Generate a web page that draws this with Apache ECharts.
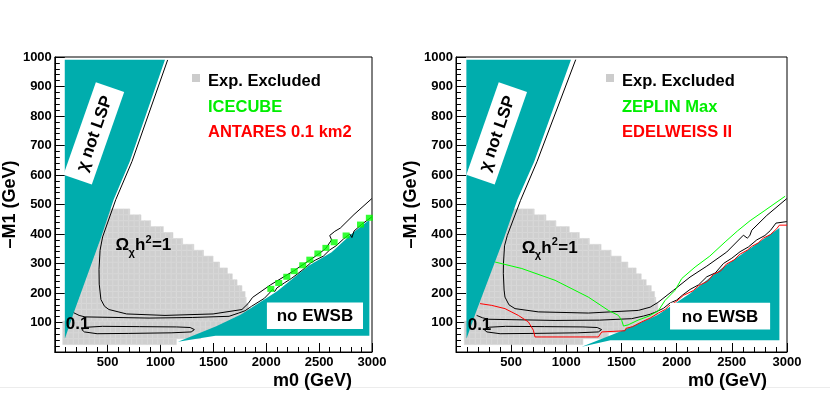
<!DOCTYPE html>
<html>
<head>
<meta charset="utf-8">
<script src="https://cdn.jsdelivr.net/npm/echarts@6/dist/echarts.min.js"></script>
<style>
  html, body { margin: 0; background: #fff; }
  #main { width: 830px; height: 393px; }
</style>
</head>
<body>
<div id="main"></div>
<script>
const FONT = '"Liberation Sans", Arial, Helvetica, sans-serif';

// axis ticks
const m0Ticks = [0, 500, 1000, 1500, 2000, 2500, 3000];
const m1Ticks = [0, 100, 200, 300, 400, 500, 600, 700, 800, 900, 1000];

// experimentally excluded area: rows 20 GeV tall, left / right edge in m0
const exclRowBottom = [25, 45, 65, 85, 105, 125, 145, 165, 185, 205, 225, 245, 265, 285, 305, 325, 345, 365, 385, 405, 425, 445, 465];
const exclRowLeft = [75, 75, 75, 75, 100, 100, 100, 100, 100, 100, 100, 100, 100, 100, 100, 100, 100, 100, 100, 100, 100, 100, 100];
const exclRowRight = [1150, 1380, 1800, 1800, 1820, 1830, 1830, 1810, 1800, 1770, 1724, 1679, 1633, 1558, 1497, 1406, 1315, 1209, 1118, 1027, 906, 815, 709];

// theoretically forbidden zones (m0, -M1)
const notLspZone = [[94, 991], [1042, 991], [709, 646], [557, 517], [436, 387], [179, 133], [95, 45]];
const noEwsbLeft = [[1165, 35], [1527, 87], [1760, 127], [2103, 206], [2400, 292], [2618, 338], [2800, 398], [2975, 448], [2975, 55], [1520, 55]];
const noEwsbRight = [[1140, 18], [1517, 74], [1819, 124], [1940, 153], [2121, 198], [2424, 288], [2726, 367], [2931, 420], [2931, 40], [1400, 40]];

// relic density contours
const omegaOneLeft = [[1067, 990], [730, 646], [577, 517], [452, 390], [428, 345], [418, 280], [420, 230], [436, 178], [470, 155], [512, 144], [679, 129], [1042, 124], [1497, 129], [1770, 144], [1830, 165], [1870, 185], [2042, 228], [2255, 274], [2467, 325], [2560, 350], [2618, 380], [2600, 395], [2648, 409], [2700, 420], [2830, 466], [2998, 520]];
const pointOneLeft = [[179, 133], [230, 124], [285, 119], [891, 115], [1300, 117], [1648, 121], [1739, 132], [1800, 140], [1861, 155], [1982, 182], [2030, 200], [2060, 212], [2080, 205], [2100, 217], [2170, 234], [2240, 250], [2300, 266], [2360, 283], [2420, 302], [2467, 312], [2540, 325], [2600, 346], [2660, 360], [2730, 383], [2790, 400], [2810, 388], [2830, 410], [2900, 432], [2998, 458]];
const omegaOneRight = [[1085, 991], [735, 646], [585, 514], [465, 395], [440, 360], [430, 300], [429, 266], [436, 210], [444, 186], [480, 160], [535, 147], [746, 136], [1200, 132], [1653, 141], [1760, 152], [1830, 168], [1970, 209], [2121, 254], [2273, 291], [2454, 339], [2605, 396], [2640, 386], [2662, 394], [2681, 413], [2817, 463], [2998, 520]];
const pointOneRight = [[187, 124], [240, 116], [293, 111], [898, 107], [1300, 108], [1592, 113], [1700, 122], [1760, 128], [1819, 137], [1880, 148], [1940, 166], [2000, 176], [2050, 192], [2121, 212], [2200, 228], [2273, 255], [2350, 268], [2424, 300], [2500, 318], [2575, 340], [2650, 356], [2726, 380], [2800, 395], [2850, 412], [2900, 437], [2998, 442]];
const pointOneLoop = [[255, 76], [300, 84], [450, 87], [800, 86], [1150, 85], [1280, 83], [1320, 76], [1290, 68], [1100, 65], [700, 63], [400, 62], [280, 68], [255, 76]];

// detection reach
const icecubeCells = [[2043, 214], [2118, 234], [2194, 255], [2264, 274], [2345, 294], [2412, 313], [2488, 334], [2564, 353], [2642, 372], [2755, 395], [2891, 432], [2975, 455]];
const zeplinMax = [[354, 305], [596, 283], [898, 243], [1200, 186], [1381, 141], [1472, 124], [1502, 107], [1518, 88], [1560, 92], [1650, 108], [1750, 122], [1834, 140], [1895, 175], [1985, 209], [2046, 249], [2167, 288], [2300, 325], [2439, 373], [2550, 410], [2665, 445], [2800, 480], [2983, 528]];
const edelweissII = [[218, 164], [324, 158], [444, 147], [565, 124], [656, 102], [701, 74], [716, 51], [1290, 51], [1321, 68], [1532, 72], [1540, 80], [1600, 86], [1683, 102], [1700, 108], [1760, 115], [1834, 132], [1900, 145], [1925, 155], [2000, 172], [2061, 192], [2150, 208], [2200, 225], [2280, 240], [2333, 263], [2400, 275], [2450, 298], [2520, 312], [2575, 332], [2640, 345], [2680, 358], [2740, 370], [2786, 386], [2850, 398], [2907, 418], [2931, 430], [3000, 430]];

// label anchors (m0, -M1)
const lspLabelAt = [369, 741];
const omegaLabelAt = [[573, 361], [596, 353]];
const pointOneLabelAt = [[103, 95], [106, 92]];
const ewsbBox = [[[2006, 78], [2915, 168]], [[1940, 76], [2847, 167]]];

const TEAL = '#00adad';
const GREY = '#cfcfcf';

const exclRows = exclRowBottom.map((b, i) => [exclRowLeft[i], b, exclRowRight[i], b + 20]);

function axisX(i) {
  return {
    gridIndex: i, type: 'value', min: 0, max: 3000, interval: 500,
    name: 'm0 (GeV)', nameLocation: 'end', nameGap: 0,
    nameTextStyle: { fontFamily: FONT, fontWeight: 'bold', fontSize: 18, color: '#000', align: 'right', verticalAlign: 'top', padding: [20, 20, 0, 0] },
    axisLine: { lineStyle: { color: '#000', width: 1 } },
    axisTick: { inside: true, length: 9, lineStyle: { color: '#000' } },
    minorTick: { show: true, splitNumber: 5, length: 5, lineStyle: { color: '#000' } },
    axisLabel: { margin: 4, fontFamily: FONT, fontWeight: 'bold', fontSize: 13, color: '#000', formatter: v => m0Ticks.indexOf(v) > 0 ? v : '' },
    splitLine: { show: false }
  };
}

function axisY(i) {
  return {
    gridIndex: i, type: 'value', min: 0, max: 1000, interval: 100,
    name: '–M1 (GeV)', nameLocation: 'middle', nameGap: 27, nameRotate: 90,
    nameTextStyle: { fontFamily: FONT, fontWeight: 'bold', fontSize: 18, color: '#000' },
    axisLine: { lineStyle: { color: '#000', width: 1 } },
    axisTick: { inside: true, length: 10, lineStyle: { color: '#000' } },
    minorTick: { show: true, splitNumber: 5, length: 5, lineStyle: { color: '#000' } },
    axisLabel: { margin: 3, fontFamily: FONT, fontWeight: 'bold', fontSize: 13, color: '#000', formatter: v => m1Ticks.indexOf(v) > 0 ? v : '' },
    splitLine: { show: false }
  };
}

function excludedSeries(i) {
  return {
    type: 'custom', xAxisIndex: i, yAxisIndex: i, z: 1, silent: true, clip: true,
    data: exclRows,
    renderItem: (params, api) => {
      const l = api.value(0), b = api.value(1), r = api.value(2), t = api.value(3);
      const cells = [];
      for (let m = l; m < r; m += 50) {
        const p1 = api.coord([m, b]);
        const p2 = api.coord([Math.min(m + 50, r), t]);
        cells.push({
          type: 'rect',
          shape: { x: p1[0], y: p2[1], width: p2[0] - p1[0], height: p1[1] - p2[1] },
          style: { fill: GREY, stroke: '#d9d9d9', lineWidth: 0.6 }
        });
      }
      return { type: 'group', children: cells };
    }
  };
}

function zoneSeries(i, pts) {
  return {
    type: 'custom', xAxisIndex: i, yAxisIndex: i, z: 2, silent: true, clip: true,
    data: [pts[0]],
    renderItem: (params, api) => ({
      type: 'polygon',
      shape: { points: pts.map(p => api.coord(p)) },
      style: { fill: TEAL }
    })
  };
}

function curve(i, pts, color, name) {
  return {
    type: 'line', name, xAxisIndex: i, yAxisIndex: i, z: 4, silent: true,
    data: pts, showSymbol: false, symbol: 'none', smooth: false,
    lineStyle: { color, width: 1 }
  };
}

function labelSeries(i) {
  return {
    type: 'custom', xAxisIndex: i, yAxisIndex: i, z: 6, silent: true, clip: false,
    data: [lspLabelAt],
    renderItem: (params, api) => {
      const c = api.coord(lspLabelAt);
      const o = api.coord(omegaLabelAt[i]);
      const z = api.coord(pointOneLabelAt[i]);
      const b1 = api.coord(ewsbBox[i][0]);
      const b2 = api.coord(ewsbBox[i][1]);
      const big = 'bold 17px ' + FONT;
      const small = 'bold 11px ' + FONT;
      return {
        type: 'group',
        children: [
          {
            type: 'group', x: c[0], y: c[1], rotation: 70.7 * Math.PI / 180,
            children: [
              { type: 'rect', shape: { x: -49, y: -15, width: 98, height: 30 }, style: { fill: '#fff' } },
              { type: 'text', style: { text: 'χ not LSP', x: 0, y: 1, align: 'center', verticalAlign: 'middle', font: big, fill: '#000' } }
            ]
          },
          {
            type: 'group', x: o[0], y: o[1],
            children: [
              { type: 'text', style: { text: 'Ω', x: 0, y: 0, verticalAlign: 'middle', font: big, fill: '#000' } },
              { type: 'text', style: { text: 'χ', x: 13, y: 7, verticalAlign: 'middle', font: small, fill: '#000' } },
              { type: 'text', style: { text: 'h', x: 19.5, y: 0, verticalAlign: 'middle', font: big, fill: '#000' } },
              { type: 'text', style: { text: '2', x: 30, y: -6, verticalAlign: 'middle', font: small, fill: '#000' } },
              { type: 'text', style: { text: '=1', x: 36.5, y: 0, verticalAlign: 'middle', font: big, fill: '#000' } }
            ]
          },
          { type: 'text', style: { text: '0.1', x: z[0], y: z[1], verticalAlign: 'middle', font: big, fill: '#000' } },
          { type: 'rect', shape: { x: b1[0], y: b2[1], width: b2[0] - b1[0], height: b1[1] - b2[1] }, style: { fill: '#fff' } },
          { type: 'text', style: { text: 'no EWSB', x: (b1[0] + b2[0]) / 2, y: (b1[1] + b2[1]) / 2 + 1, align: 'center', verticalAlign: 'middle', font: big, fill: '#000' } }
        ]
      };
    }
  };
}

function legend(x, sqX, second, secondColor, third, thirdColor) {
  const f = 'bold 16.5px ' + FONT;
  return [
    { type: 'rect', x: sqX, y: 74, shape: { width: 8, height: 8 }, style: { fill: '#cccccc' } },
    { type: 'text', x: x, y: 81, style: { text: 'Exp. Excluded', verticalAlign: 'middle', font: f, fill: '#000' } },
    { type: 'text', x: x, y: 107, style: { text: second, verticalAlign: 'middle', font: f, fill: secondColor } },
    { type: 'text', x: x, y: 132, style: { text: third, verticalAlign: 'middle', font: f, fill: thirdColor } }
  ];
}

const chart = echarts.init(document.getElementById('main'));
chart.setOption({
  animation: false,
  backgroundColor: '#fff',
  grid: [
    { left: 42, top: 57, width: 330, height: 295, show: true, borderColor: '#000', borderWidth: 1 },
    { left: 456, top: 57, width: 331, height: 295, show: true, borderColor: '#000', borderWidth: 1 }
  ],
  xAxis: [axisX(0), axisX(1)],
  yAxis: [axisY(0), axisY(1)],
  graphic: [
    ...legend(208, 192, 'ICECUBE', '#00ee00', 'ANTARES 0.1 km2', '#ff0000'),
    ...legend(622, 606, 'ZEPLIN Max', '#00ee00', 'EDELWEISS II', '#ff0000'),
    { type: 'line', shape: { x1: 0, y1: 387.5, x2: 830, y2: 387.5 }, style: { stroke: '#ececec', lineWidth: 1 } }
  ],
  series: [
    excludedSeries(0),
    zoneSeries(0, notLspZone),
    zoneSeries(0, noEwsbLeft),
    curve(0, omegaOneLeft, '#000', 'Omega h2 = 1'),
    curve(0, pointOneLeft, '#000', 'Omega h2 = 0.1'),
    curve(0, pointOneLoop, '#000', 'Omega h2 = 0.1 loop'),
    {
      type: 'scatter', name: 'ICECUBE', xAxisIndex: 0, yAxisIndex: 0, z: 5, silent: true,
      data: icecubeCells, symbol: 'rect', symbolSize: [7, 6],
      itemStyle: { color: '#00ff00' }
    },
    labelSeries(0),

    excludedSeries(1),
    zoneSeries(1, notLspZone),
    zoneSeries(1, noEwsbRight),
    curve(1, omegaOneRight, '#000', 'Omega h2 = 1'),
    curve(1, pointOneRight, '#000', 'Omega h2 = 0.1'),
    curve(1, pointOneLoop, '#000', 'Omega h2 = 0.1 loop'),
    curve(1, zeplinMax, '#00ff00', 'ZEPLIN Max'),
    curve(1, edelweissII, '#ff0000', 'EDELWEISS II'),
    labelSeries(1)
  ]
});
</script>
</body>
</html>
